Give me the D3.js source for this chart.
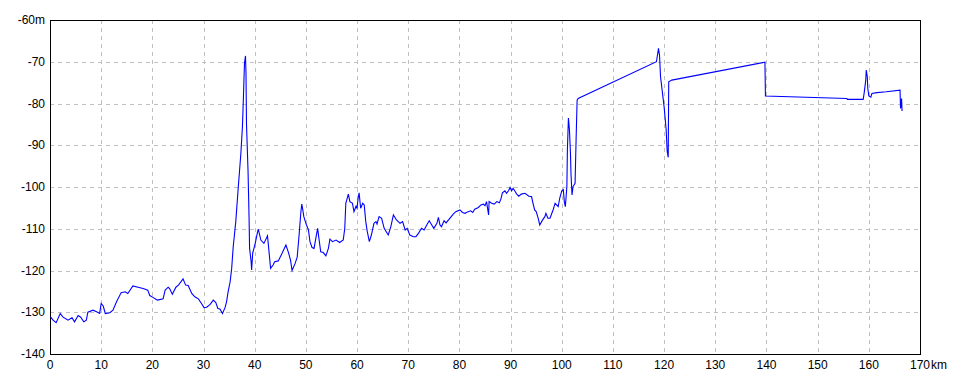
<!DOCTYPE html>
<html><head><meta charset="utf-8">
<script src="https://cdn.jsdelivr.net/npm/d3@7"></script>
<style>html,body{margin:0;padding:0;background:#fff;}svg{display:block;}</style>
</head><body>
<svg id="chart" width="960" height="384"></svg>
<script>
// distance along route (km)
const distKm = [0.1,0.6,1.2,2.0,2.5,3.5,4.3,4.8,5.5,6.0,6.6,7.1,7.4,8.4,9.1,9.7,10.0,10.4,10.8,11.7,12.3,13.0,13.9,14.7,15.2,16.2,17.2,18.2,19.1,19.5,20.2,20.7,21.0,22.1,22.5,23.1,23.4,23.9,24.6,25.1,26.0,26.5,27.0,27.7,28.3,29.0,29.6,30.1,30.6,31.3,31.9,32.4,32.8,33.2,33.7,34.2,34.5,34.8,35.2,35.5,35.8,36.3,36.8,37.3,37.6,37.8,38.0,38.2,38.3,38.4,38.7,38.9,39.0,39.3,39.4,39.6,40.1,40.5,40.7,41.2,41.8,42.5,42.9,43.1,43.6,43.9,44.6,45.3,46.1,46.6,47.0,47.3,47.9,48.3,48.7,49.0,49.2,49.4,49.6,50.0,50.5,50.8,51.2,51.6,52.0,52.3,52.5,52.9,53.4,53.9,54.4,54.7,55.2,55.9,56.6,57.3,57.6,57.8,58.3,58.6,59.1,59.4,59.8,60.0,60.2,60.4,60.7,61.1,61.4,61.7,62.0,62.4,62.8,63.3,63.7,63.9,64.3,64.8,65.3,65.7,66.1,66.6,67.1,67.7,68.4,68.9,69.4,69.8,70.3,71.0,71.5,72.0,72.6,73.1,73.7,74.1,74.6,75.0,75.6,75.9,76.2,76.5,77.0,77.4,78.0,78.8,79.3,80.1,80.6,81.1,81.7,82.2,82.6,83.0,83.7,84.2,84.7,85.0,85.3,85.7,85.8,86.3,86.8,87.3,87.8,88.1,88.4,88.9,89.2,89.6,89.9,90.2,90.5,90.8,91.2,91.6,92.1,92.8,93.6,94.1,94.3,94.7,95.0,95.4,95.7,96.2,96.7,96.9,97.3,97.7,98.3,98.7,99.3,99.6,100.0,100.3,100.5,100.7,101.0,101.1,101.3,101.5,101.7,101.8,102.0,102.2,102.6,102.8,103.0,103.2,118.5,118.9,119.1,119.3,120.0,120.4,120.6,120.8,120.9,121.5,139.7,139.8,155.7,155.8,158.9,159.1,159.4,159.5,159.7,159.8,160.0,160.4,160.6,161.6,163.4,166.1,166.2,166.4,166.5];
// elevation (m)
const elevM = [-131.1,-131.9,-132.5,-130.3,-131.1,-131.9,-131.3,-132.3,-130.8,-131.2,-132.3,-131.9,-130.0,-129.5,-129.9,-130.3,-127.9,-128.5,-130.3,-130.1,-129.5,-127.5,-125.3,-125.1,-125.5,-123.7,-124.0,-124.3,-124.7,-126.0,-126.5,-126.9,-127.1,-126.8,-124.7,-124.0,-124.4,-125.7,-124.0,-123.5,-122.0,-123.5,-123.6,-125.5,-126.3,-126.8,-127.9,-128.9,-128.8,-128.1,-127.1,-127.7,-129.1,-129.2,-130.3,-128.9,-127.5,-125.1,-122.7,-119.5,-114.3,-108.3,-99.9,-91.9,-85.6,-78.4,-70.4,-68.6,-72.8,-85.1,-96.3,-107.5,-114.7,-117.9,-119.9,-115.9,-113.5,-111.1,-110.1,-112.7,-113.5,-111.7,-116.8,-119.5,-118.7,-117.9,-117.7,-116.0,-113.9,-115.7,-117.5,-120.0,-118.3,-116.8,-111.1,-106.3,-104.1,-105.5,-107.1,-108.7,-110.3,-113.1,-114.5,-114.7,-111.9,-109.9,-111.9,-115.5,-115.7,-116.5,-114.7,-112.5,-113.1,-112.7,-113.3,-112.7,-109.9,-103.9,-101.7,-103.5,-103.9,-105.9,-104.6,-105.1,-102.7,-101.4,-105.1,-103.9,-104.3,-108.3,-110.7,-113.1,-111.5,-108.7,-108.3,-108.9,-107.1,-107.5,-109.9,-110.7,-111.5,-109.5,-106.7,-107.9,-108.7,-108.3,-110.3,-109.9,-111.5,-111.9,-111.9,-111.1,-109.9,-110.3,-108.9,-108.1,-109.1,-109.9,-108.7,-107.3,-109.1,-109.5,-108.1,-108.6,-107.7,-106.5,-105.9,-105.5,-106.1,-106.3,-105.9,-105.7,-106.1,-105.3,-104.9,-104.3,-104.1,-104.5,-103.5,-106.7,-103.5,-103.9,-104.1,-103.5,-103.8,-102.9,-101.4,-100.9,-101.5,-100.9,-100.1,-100.9,-100.3,-100.9,-101.7,-102.2,-101.7,-101.5,-102.2,-102.3,-103.5,-105.5,-105.9,-107.5,-109.1,-108.0,-107.1,-106.3,-107.5,-107.5,-105.5,-103.9,-104.7,-102.7,-100.9,-100.6,-103.5,-104.7,-99.9,-91.1,-83.5,-86.3,-91.9,-96.7,-101.9,-99.9,-99.1,-88.7,-79.2,-78.8,-70.0,-66.8,-68.4,-73.6,-80.8,-86.3,-91.5,-92.9,-74.8,-74.4,-70.1,-78.2,-78.8,-79.0,-79.0,-77.4,-74.4,-72.0,-73.6,-76.4,-78.2,-78.5,-77.6,-77.4,-77.2,-76.8,-81.2,-78.8,-81.8];
const xTicks = [0,10,20,30,40,50,60,70,80,90,100,110,120,130,140,150,160,170];
const yTicks = [-60,-70,-80,-90,-100,-110,-120,-130,-140];
const xUnit = "km", yUnit = "m";

const svg = d3.select("#chart");
const L = 50, R = 920, T = 20, B = 354;
const x = d3.scaleLinear().domain([0,170]).range([L,R]);
const y = d3.scaleLinear().domain([-140,-60]).range([B,T]);
const font = "'Liberation Sans', Arial, sans-serif";

// grid
const g = svg.append("g");
g.selectAll("line.vg").data(xTicks.slice(1,-1)).join("line")
  .attr("x1", d => Math.round(x(d))+0.5).attr("x2", d => Math.round(x(d))+0.5)
  .attr("y1", T).attr("y2", B)
  .attr("stroke", "#c0c0c0").attr("stroke-dasharray", "4,4").attr("shape-rendering","crispEdges");
g.selectAll("line.hg").data(yTicks.slice(1,-1)).join("line")
  .attr("y1", d => Math.round(y(d))+0.5).attr("y2", d => Math.round(y(d))+0.5)
  .attr("x1", L).attr("x2", R)
  .attr("stroke", "#c0c0c0").attr("stroke-dasharray", "4,4").attr("shape-rendering","crispEdges");

// frame
svg.append("rect").attr("x", L+0.5).attr("y", T+0.5).attr("width", R-L).attr("height", B-T)
  .attr("fill","none").attr("stroke","#000").attr("stroke-width",1).attr("shape-rendering","crispEdges");

// line
const pts = distKm.map((d,i) => [d, elevM[i]]);
const line = d3.line().x(d => x(d[0])).y(d => y(d[1]));
svg.append("path").datum(pts).attr("d", line)
  .attr("fill","none").attr("stroke","#0000ff").attr("stroke-width",1.1);

// y labels
svg.selectAll("text.yl").data(yTicks).join("text")
  .attr("x", 45).attr("y", d => y(d)).attr("dy","0.35em")
  .attr("text-anchor","end").attr("font-family",font).attr("font-size",12).attr("fill","#000")
  .text((d,i) => i === 0 ? d + yUnit : String(d));

// x labels
const xl = svg.selectAll("text.xl").data(xTicks).join("text")
  .attr("x", d => x(d)).attr("y", 369)
  .attr("text-anchor","middle").attr("font-family",font).attr("font-size",12).attr("fill","#000")
  .text(d => String(d));
const last = xl.filter((d,i) => i === xTicks.length-1);
const w = last.node().getComputedTextLength();
last.attr("text-anchor","start").attr("x", x(170) - w/2).text(null)
  .call(t => { t.append("tspan").text("170"); t.append("tspan").attr("dx",1).text(xUnit); });
</script>
</body></html>
